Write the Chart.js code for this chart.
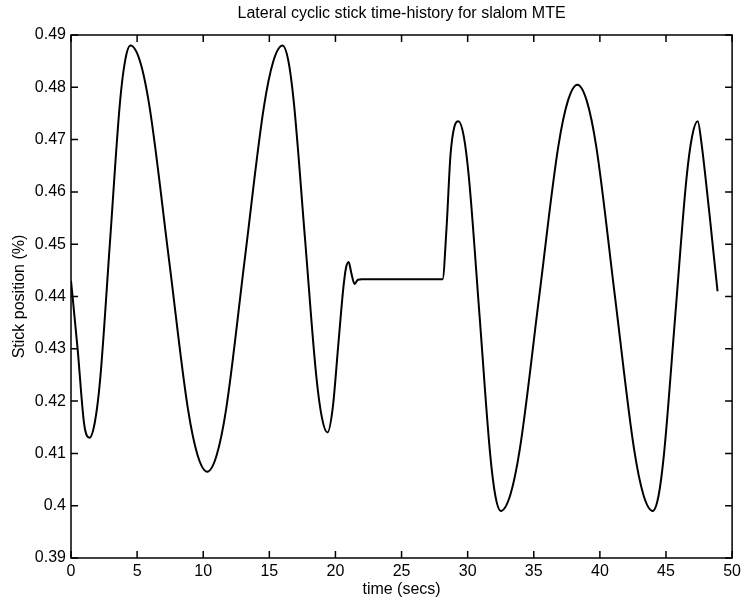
<!DOCTYPE html>
<html>
<head>
<meta charset="utf-8">
<script src="https://cdn.jsdelivr.net/npm/chart.js@4/dist/chart.umd.min.js"></script>
<style>
  html, body { margin: 0; padding: 0; background: #fff; }
  #wrap { width: 745px; height: 609px; }
</style>
</head>
<body>
<div id="wrap"><canvas id="stickChart" width="745" height="609"></canvas></div>
<script>
// Time-history (time in secs, stick position)
const timeSecs = [
  0, 0.5, 1.0, 1.4,
  1.8, 2.2, 2.95, 3.7, 4.1, 4.5,
  5.23, 5.95, 7.4, 8.85, 9.58, 10.3,
  11.01, 11.73, 13.15, 14.58, 15.29, 16.0,
  16.43, 16.85, 17.7, 18.55, 18.98, 19.4,
  19.8, 20.2, 20.6, 20.8, 21.0, 21.2, 21.45, 21.7, 22.0, 28.1,
  28.4, 28.7, 29.0, 29.3,
  29.7, 30.1, 30.9, 31.7, 32.1, 32.5,
  33.23, 33.95, 35.4, 36.85, 37.58, 38.3,
  39.01, 39.73, 41.15, 42.58, 43.29, 44.0,
  44.43, 44.85, 45.7, 46.55, 46.98, 47.4,
  47.7, 48.0, 48.3, 48.6, 48.9
];
const stickPos = [
  0.443, 0.430, 0.4155, 0.413,
  0.4159, 0.424, 0.4505, 0.477, 0.4852, 0.488,
  0.4849, 0.4761, 0.4473, 0.4184, 0.4096, 0.4065,
  0.4096, 0.4184, 0.4473, 0.4761, 0.4849, 0.488,
  0.4852, 0.4772, 0.451, 0.4248, 0.4168, 0.414,
  0.4188, 0.4303, 0.4417, 0.4455, 0.4466, 0.4445, 0.4424, 0.4432, 0.4433, 0.4433,
  0.453, 0.467, 0.4725, 0.4735,
  0.4707, 0.4626, 0.4363, 0.4099, 0.4018, 0.399,
  0.4021, 0.4109, 0.4398, 0.4686, 0.4774, 0.4805,
  0.4774, 0.4686, 0.4398, 0.4109, 0.4021, 0.399,
  0.4018, 0.4099, 0.4363, 0.4626, 0.4707, 0.4735,
  0.469, 0.4625, 0.4555, 0.4482, 0.441
];
const xTickValues = [0, 5, 10, 15, 20, 25, 30, 35, 40, 45, 50];
const yTickValues = [0.39, 0.40, 0.41, 0.42, 0.43, 0.44, 0.45, 0.46, 0.47, 0.48, 0.49];
const yTickLabels = ['0.39', '0.4', '0.41', '0.42', '0.43', '0.44', '0.45', '0.46', '0.47', '0.48', '0.49'];

const FONT = '"Liberation Sans", Arial, Helvetica, sans-serif';

// MATLAB-style box with inward ticks on all four sides, plus the title
const matlabFrame = {
  id: 'matlabFrame',
  afterDraw(chart) {
    const { ctx, chartArea: a, scales } = chart;
    const len = 7;
    ctx.save();
    ctx.strokeStyle = '#000';
    ctx.lineWidth = 1.5;
    ctx.strokeRect(a.left, a.top, a.right - a.left, a.bottom - a.top);
    ctx.beginPath();
    xTickValues.forEach(v => {
      const px = scales.x.getPixelForValue(v);
      ctx.moveTo(px, a.bottom); ctx.lineTo(px, a.bottom - len);
      ctx.moveTo(px, a.top); ctx.lineTo(px, a.top + len);
    });
    yTickValues.forEach(v => {
      const py = scales.y.getPixelForValue(v);
      ctx.moveTo(a.left, py); ctx.lineTo(a.left + len, py);
      ctx.moveTo(a.right, py); ctx.lineTo(a.right - len, py);
    });
    ctx.stroke();
    ctx.fillStyle = '#000';
    ctx.font = '16px ' + FONT;
    ctx.textAlign = 'center';
    ctx.textBaseline = 'middle';
    ctx.fillText('Lateral cyclic stick time-history for slalom MTE', (a.left + a.right) / 2, 14);
    ctx.restore();
  }
};

const ctx = document.getElementById('stickChart').getContext('2d');
new Chart(ctx, {
  type: 'line',
  data: {
    datasets: [{
      data: timeSecs.map((t, i) => ({ x: t, y: stickPos[i] })),
      borderColor: '#000',
      borderWidth: 2,
      pointRadius: 0,
      fill: false,
      cubicInterpolationMode: 'monotone'
    }]
  },
  options: {
    responsive: false,
    animation: false,
    layout: { padding: { top: 35, right: 12, left: 0, bottom: 0 } },
    plugins: {
      legend: { display: false },
      title: { display: false },
      tooltip: { enabled: false }
    },
    scales: {
      x: {
        type: 'linear',
        min: 0,
        max: 50,
        afterBuildTicks: scale => { scale.ticks = xTickValues.map(v => ({ value: v })); },
        afterFit: scale => { scale.height = 51; },
        grid: { display: false, drawTicks: false },
        border: { display: false },
        ticks: { color: '#000', font: { family: FONT, size: 16 }, padding: 4, maxRotation: 0 },
        title: { display: true, text: 'time (secs)', color: '#000', font: { family: FONT, size: 16 }, padding: { top: 0, bottom: 10 } }
      },
      y: {
        type: 'linear',
        min: 0.39,
        max: 0.49,
        afterBuildTicks: scale => { scale.ticks = yTickValues.map(v => ({ value: v })); },
        afterFit: scale => { scale.width = 71; },
        grid: { display: false, drawTicks: false },
        border: { display: false },
        ticks: {
          color: '#000',
          font: { family: FONT, size: 16 },
          padding: 5,
          callback: (value, index) => yTickLabels[index]
        },
        title: { display: true, text: 'Stick position (%)', color: '#000', font: { family: FONT, size: 16 }, padding: { top: 10, bottom: 0 } }
      }
    }
  },
  plugins: [matlabFrame]
});
</script>
</body>
</html>
